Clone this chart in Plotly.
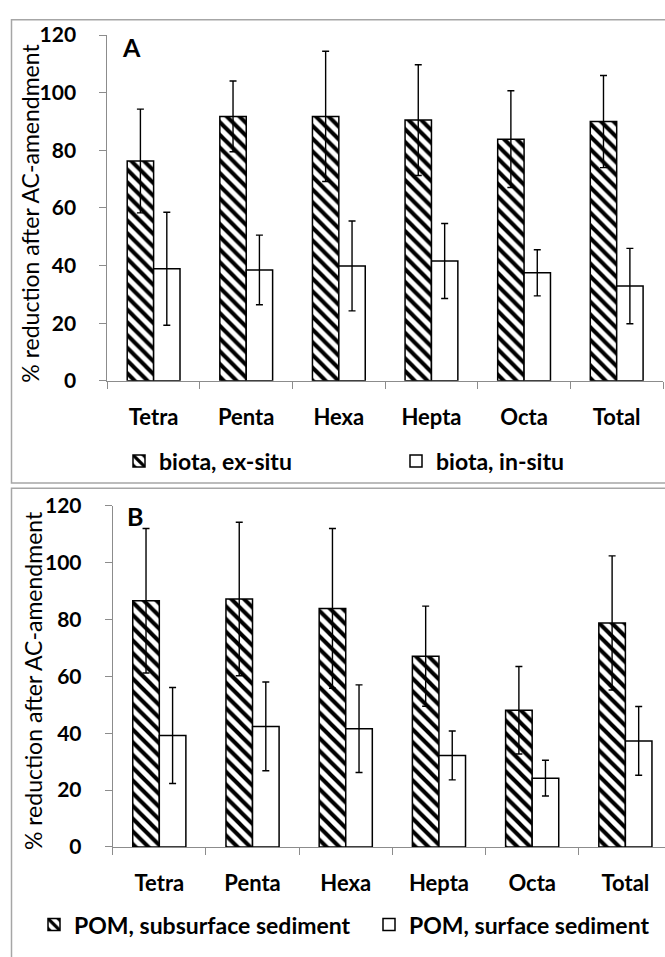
import plotly.graph_objects as go

# Homologue groups on the x axis
categories = ["Tetra", "Penta", "Hexa", "Hepta", "Octa", "Total"]

# Panel A: biota
biota_ex_situ = [76.3, 91.8, 91.8, 90.5, 83.9, 90.0]
biota_ex_situ_err = [18.0, 12.3, 22.6, 19.2, 16.8, 16.0]
biota_in_situ = [38.9, 38.5, 39.9, 41.6, 37.5, 32.9]
biota_in_situ_err = [19.6, 12.1, 15.6, 13.0, 8.0, 13.1]

# Panel B: POM
pom_subsurface = [86.6, 87.2, 83.9, 67.1, 48.1, 78.8]
pom_subsurface_err = [25.4, 27.0, 28.1, 17.6, 15.4, 23.6]
pom_surface = [39.2, 42.4, 41.6, 32.2, 24.2, 37.3]
pom_surface_err = [16.9, 15.6, 15.4, 8.6, 6.3, 12.1]

y_ticks = [0, 20, 40, 60, 80, 100, 120]
y_title = "% reduction after AC-amendment"

W, H = 665, 957
FONT = "Lato"
GRAY = "#8c8c8c"


def px_x(x):
    return x / W


def px_y(y):
    return 1 - y / H


hatch = dict(shape="\\", fgcolor="black", fgopacity=1, bgcolor="white", size=9, solidity=0.45)
err_style = dict(type="data", color="black", thickness=1.4, width=3.5, visible=True)
outline = dict(color="black", width=1.5)

fig = go.Figure()

fig.add_trace(go.Bar(
    x=categories, y=biota_ex_situ, name="biota, ex-situ",
    marker=dict(color="white", pattern=hatch, line=outline),
    error_y=dict(array=biota_ex_situ_err, **err_style),
    xaxis="x", yaxis="y", legend="legend",
))
fig.add_trace(go.Bar(
    x=categories, y=biota_in_situ, name="biota, in-situ",
    marker=dict(color="white", line=outline),
    error_y=dict(array=biota_in_situ_err, **err_style),
    xaxis="x", yaxis="y", legend="legend2",
))
fig.add_trace(go.Bar(
    x=categories, y=pom_subsurface, name="POM, subsurface sediment",
    marker=dict(color="white", pattern=hatch, line=outline),
    error_y=dict(array=pom_subsurface_err, **err_style),
    xaxis="x2", yaxis="y2", legend="legend3",
))
fig.add_trace(go.Bar(
    x=categories, y=pom_surface, name="POM, surface sediment",
    marker=dict(color="white", line=outline),
    error_y=dict(array=pom_surface_err, **err_style),
    xaxis="x2", yaxis="y2", legend="legend4",
))

ytick_font = dict(family=FONT, size=21, color="black", weight="bold")
xtick_font = dict(family=FONT, size=22, color="black", weight="bold")
title_font = dict(family=FONT, size=23, color="black")

xaxis_common = dict(
    type="category", tickson="boundaries", ticks="outside", ticklen=7,
    tickcolor=GRAY, showline=True, linecolor=GRAY, linewidth=1,
    showgrid=False, zeroline=False, tickfont=xtick_font,
    ticklabelstandoff=17, fixedrange=True,
)
yaxis_common = dict(
    range=[0, 120], tickvals=y_ticks, ticks="outside", ticklen=7,
    tickcolor=GRAY, showline=True, linecolor=GRAY, linewidth=1,
    showgrid=False, zeroline=False, tickfont=ytick_font,
    ticklabelstandoff=19, fixedrange=True,
)

# Panel B's axis runs slightly past the right edge of the page
b_left, b_right_full = 112.7, 672.0
b_cat = (b_right_full - b_left) / 6
b_range_max = 5.5 - (b_right_full - W) / b_cat

fig.update_layout(
    width=W, height=H,
    margin=dict(l=0, r=0, t=0, b=0),
    paper_bgcolor="white", plot_bgcolor="white",
    barmode="group", bargap=0.43, bargroupgap=0,
    xaxis=dict(domain=[px_x(107.3), px_x(663)], anchor="y", range=[-0.5, 5.5], **xaxis_common),
    yaxis=dict(domain=[px_y(376.7), px_y(21.7)], anchor="x", **yaxis_common),
    xaxis2=dict(domain=[px_x(b_left), 1.0], anchor="y2", range=[-0.5, b_range_max], **xaxis_common),
    yaxis2=dict(domain=[px_y(855.3), px_y(505)], anchor="x2", **yaxis_common),
    showlegend=True,
)

legend_font = dict(family=FONT, size=23, color="black", weight="bold")
legend_common = dict(
    orientation="h", font=legend_font, bgcolor="rgba(0,0,0,0)",
    xanchor="left", yanchor="middle", itemwidth=30,
    tracegroupgap=0, itemclick=False, itemdoubleclick=False,
)
fig.update_layout(
    legend=dict(x=px_x(119), y=px_y(459), **legend_common),
    legend2=dict(x=px_x(396), y=px_y(459), **legend_common),
    legend3=dict(x=px_x(34), y=px_y(935), **legend_common),
    legend4=dict(x=px_x(369), y=px_y(935), **legend_common),
)

# Panel frames
fig.add_shape(type="rect", xref="paper", yref="paper",
              x0=px_x(11.5), x1=px_x(680), y0=px_y(481.5), y1=px_y(6),
              line=dict(color="#a6a6a6", width=1.5), layer="below")
fig.add_shape(type="rect", xref="paper", yref="paper",
              x0=px_x(11.5), x1=px_x(680), y0=px_y(980), y1=px_y(487),
              line=dict(color="#a6a6a6", width=1.5), layer="below")

# Vertical axis titles
for xp, yp in [(30, 205), (33, 685)]:
    fig.add_annotation(text=y_title, xref="paper", yref="paper",
                       x=px_x(xp), y=px_y(yp), showarrow=False, textangle=-90,
                       font=title_font, xanchor="center", yanchor="middle")

# Panel letters
for letter, xp, yp in [("A", 131, 34), ("B", 135, 515)]:
    fig.add_annotation(text=letter, xref="paper", yref="paper",
                       x=px_x(xp), y=px_y(yp), showarrow=False,
                       font=dict(family=FONT, size=25, color="black", weight="bold"),
                       xanchor="center", yanchor="middle")

fig.write_html("out.html")
